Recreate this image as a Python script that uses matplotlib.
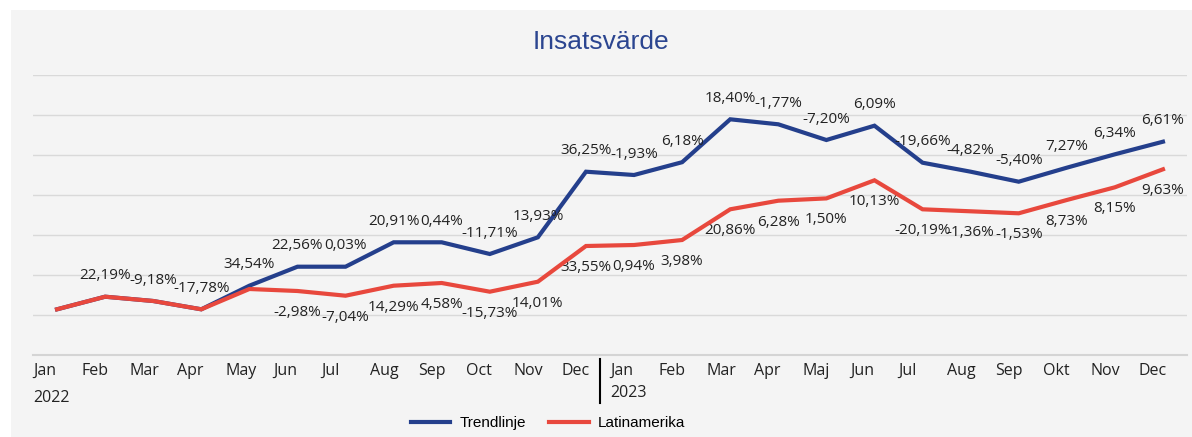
import matplotlib.pyplot as plt
import matplotlib.transforms as mtransforms
from matplotlib.patches import Rectangle
import numpy as np

months = ["Jan", "Feb", "Mar", "Apr", "May", "Jun", "Jul", "Aug", "Sep", "Oct", "Nov", "Dec",
          "Jan", "Feb", "Mar", "Apr", "Maj", "Jun", "Jul", "Aug", "Sep", "Okt", "Nov", "Dec"]
years = ["2022", "2023"]

# index values (gridlines every 20)
trend = [22.85, 29.15, 27.0, 22.85, 34.65, 44.15, 44.15, 56.35, 56.35, 50.5, 58.85, 91.65,
         90.0, 96.4, 117.85, 115.35, 107.5, 114.65, 96.15, 91.65, 86.65, 93.65, 100.35, 106.65]
latam = [22.85, 29.15, 27.0, 22.85, 33.0, 32.0, 29.65, 34.65, 36.0, 31.65, 36.65, 54.5,
         55.0, 57.5, 72.85, 77.15, 78.3, 87.35, 72.85, 71.85, 70.85, 77.5, 83.85, 92.85]

trend_labels = [None, "22,19%", "-9,18%", "-17,78%", "34,54%", "22,56%", "0,03%", "20,91%",
                "0,44%", "-11,71%", "13,93%", "36,25%", "-1,93%", "6,18%", "18,40%", "-1,77%",
                "-7,20%", "6,09%", "-19,66%", "-4,82%", "-5,40%", "7,27%", "6,34%", "6,61%"]
latam_labels = [None, None, None, None, None, "-2,98%", "-7,04%", "14,29%", "4,58%", "-15,73%",
                "14,01%", "33,55%", "0,94%", "3,98%", "20,86%", "6,28%", "1,50%", "10,13%",
                "-20,19%", "-1,36%", "-1,53%", "8,73%", "8,15%", "9,63%"]

blue = "#243f8c"
red = "#e8483d"
bg = "#f4f4f4"
label_font = "Open Sans"
fs = 11
fs_tick = 11.5

fig = plt.figure(figsize=(11.92, 4.37), dpi=100, facecolor="white")
fig.patches.append(Rectangle((11 / 1192, 0), 1 - 11 / 1192, 1 - 10 / 437,
                             transform=fig.transFigure, facecolor=bg, edgecolor="none", zorder=-1))

ax = fig.add_axes([33 / 1192, 82 / 437, 1154 / 1192, 280 / 437])
ax.patch.set_alpha(0)

x = np.arange(len(months))
ax.plot(x, trend, color=blue, lw=3, solid_joinstyle="miter", label="Trendlinje", zorder=3)
ax.plot(x, latam, color=red, lw=3, solid_joinstyle="miter", label="Latinamerika", zorder=4)

for i, (v, t) in enumerate(zip(trend, trend_labels)):
    if t:
        ax.annotate(t, (i, v), xytext=(0, 15), textcoords="offset points", ha="center",
                    va="center", fontsize=fs, family=label_font, color="#222222")
for i, (v, t) in enumerate(zip(latam, latam_labels)):
    if t:
        ax.annotate(t, (i, v), xytext=(0, -15.5), textcoords="offset points", ha="center",
                    va="center", fontsize=fs, family=label_font, color="#222222")

ax.set_xlim(-0.5, len(months) - 0.5)
ax.set_ylim(0, 140)
ax.set_yticks(np.arange(20, 141, 20))
ax.yaxis.grid(True, color="#d9d9d9", lw=1.0)
ax.set_axisbelow(True)
ax.tick_params(axis="y", left=False, labelleft=False)
for s in ["top", "right", "left"]:
    ax.spines[s].set_visible(False)
ax.spines["bottom"].set_color("#d4d4d4")
ax.spines["bottom"].set_linewidth(1.5)

ax.set_xticks(x - 0.5)
ax.set_xticklabels(months, ha="left", fontsize=fs_tick, family=label_font, color="#222222")
ax.tick_params(axis="x", length=0, pad=6)

trans = mtransforms.blended_transform_factory(ax.transData, ax.transAxes)
ax.text(-0.5, -0.155, years[0], transform=trans, ha="left", va="center", fontsize=fs_tick,
        family=label_font, color="#222222")
ax.text(11.5, -0.137, years[1], transform=trans, ha="left", va="center", fontsize=fs_tick,
        family=label_font, color="#222222")
ax.plot([11.29, 11.29], [-0.014, -0.171], transform=trans, color="black", lw=1.5, clip_on=False)

fig.text(601 / 1192, 1 - 42 / 437, "Insatsvärde", ha="center", va="center", fontsize=19,
         family="Liberation Sans", color="#2b4590")

fig.legend(loc="center", bbox_to_anchor=(548 / 1192, 1 - 423 / 437), ncol=2, frameon=False,
           prop={"family": "Liberation Sans", "size": 11}, handlelength=2.6,
           handletextpad=0.6, columnspacing=1.5)

fig.savefig("out.png", dpi=100, facecolor="white")
